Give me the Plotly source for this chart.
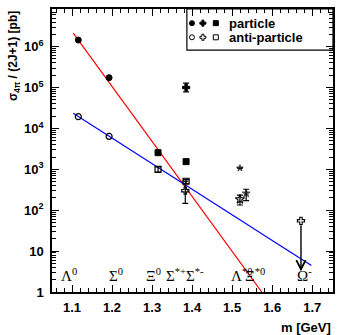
import numpy as np
import plotly.graph_objects as go

# ---------------- data ----------------
# particles (filled markers)
part_circ_m = [1.1157, 1.1926]
part_circ_y = [1.45e6, 1.74e5]
part_sq_m = [1.3149, 1.3850]
part_sq_y = [2.55e3, 1.54e3]
part_cross_m = [1.3850]
part_cross_y = [1.0e5]
part_cross_err_p = [0.28e5]
part_cross_err_m = [0.22e5]
part_star_m = [1.5195, 1.5350]
part_star_y = [1.07e3, 2.58e2]
part_star_err_p = [0, 67]
part_star_err_m = [0, 87]

# anti-particles (open markers)
anti_circ_m = [1.1157, 1.1926]
anti_circ_y = [1.94e4, 6.4e3]
anti_sq_m = [1.3149, 1.3850]
anti_sq_y = [1.0e3, 5.1e2]
anti_sq_err = [0.15e3, 0.6e2]
anti_cross_m = [1.3830]
anti_cross_y = [3.0e2]
anti_cross_err_p = [2.15e2]
anti_cross_err_m = [1.53e2]
anti_star_m = [1.5195]
anti_star_y = [1.85e2]
anti_star_err_p = [50]
anti_star_err_m = [51]
omega_m = [1.6720]
omega_y = [55.0]
omega_arrow_tip = [3.2]

# exponential fits
red_fit_m = [1.103, 1.574]
red_fit_y = [2.14e6, 1.0]
blue_fit_m = [1.103, 1.698]
blue_fit_y = [2.34e4, 4.47]

# particle name labels
label_text = ["Λ<sup>0</sup>", "Σ<sup>0</sup>", "Ξ<sup>0</sup>",
              "Σ<sup>*+</sup>Σ<sup>*-</sup>", "Λ<sup>*0</sup>", "Ξ<sup>*0</sup>", "Ω<sup>-</sup>"]
label_m = [1.093, 1.209, 1.304, 1.383, 1.523, 1.557, 1.682]
label_y = 2.6

# axis ticks
y_tickvals = [1, 10, 100, 1e3, 1e4, 1e5, 1e6]
y_ticktext = ["1", "10", "10<sup>2</sup>", "10<sup>3</sup>", "10<sup>4</sup>",
              "10<sup>5</sup>", "10<sup>6</sup>"]
x_tickvals = [1.1, 1.2, 1.3, 1.4, 1.5, 1.6, 1.7]

BOLD = dict(family="Liberation Sans, Arial, sans-serif", size=13, color="black", weight="bold")
SERIF = dict(family="Liberation Serif, Times New Roman, serif", size=15, color="black")

fig = go.Figure()

# fit lines
fig.add_trace(go.Scatter(x=red_fit_m, y=red_fit_y, mode="lines",
                         line=dict(color="red", width=1.2), showlegend=False))
fig.add_trace(go.Scatter(x=blue_fit_m, y=blue_fit_y, mode="lines",
                         line=dict(color="blue", width=1.2), showlegend=False))

def errs(p, m):
    return dict(type="data", symmetric=False, array=p, arrayminus=m,
                color="black", thickness=1.2, width=3)

mk = dict(color="black", line=dict(color="black", width=1))

# particles
fig.add_trace(go.Scatter(x=part_circ_m, y=part_circ_y, mode="markers",
                         marker=dict(symbol="circle", size=6, **mk), showlegend=False))
fig.add_trace(go.Scatter(x=part_sq_m, y=part_sq_y, mode="markers",
                         marker=dict(symbol="square", size=6, **mk), showlegend=False))
fig.add_trace(go.Scatter(x=part_cross_m, y=part_cross_y, mode="markers",
                         error_y=errs(part_cross_err_p, part_cross_err_m),
                         marker=dict(symbol="cross", size=6, **mk), showlegend=False))
fig.add_trace(go.Scatter(x=part_star_m, y=part_star_y, mode="markers",
                         error_y=errs(part_star_err_p, part_star_err_m),
                         marker=dict(symbol="star", size=[5, 6], **mk), showlegend=False))

# anti-particles
fig.add_trace(go.Scatter(x=anti_sq_m, y=anti_sq_y, mode="markers",
                         error_y=dict(type="data", array=anti_sq_err, color="black", thickness=1.2, width=3),
                         marker=dict(symbol="square-open", size=6, color="black", line=dict(width=1.2)),
                         showlegend=False))
fig.add_trace(go.Scatter(x=anti_circ_m, y=anti_circ_y, mode="markers",
                         marker=dict(symbol="circle-open", size=6, color="black", line=dict(width=1.2)),
                         showlegend=False))
fig.add_trace(go.Scatter(x=anti_cross_m, y=anti_cross_y, mode="markers",
                         error_y=errs(anti_cross_err_p, anti_cross_err_m),
                         marker=dict(symbol="cross-open", size=6, color="black", line=dict(width=1.1)),
                         showlegend=False))
fig.add_trace(go.Scatter(x=anti_star_m, y=anti_star_y, mode="markers",
                         error_y=errs(anti_star_err_p, anti_star_err_m),
                         marker=dict(symbol="star-open", size=7, color="black", line=dict(width=1.1)),
                         showlegend=False))
fig.add_trace(go.Scatter(x=omega_m, y=omega_y, mode="markers",
                         marker=dict(symbol="cross-open", size=6, color="black", line=dict(width=1.1)),
                         showlegend=False))

# upper-limit arrow
fig.add_annotation(x=omega_m[0], y=np.log10(omega_arrow_tip[0]),
                   ax=omega_m[0], ay=np.log10(omega_y[0]) - 0.07,
                   xref="x", yref="y", axref="x", ayref="y",
                   showarrow=True, arrowhead=5, arrowsize=1.3, arrowwidth=1.4,
                   arrowcolor="black", text="")

# particle name labels
for t, m in zip(label_text, label_m):
    fig.add_annotation(x=m, y=np.log10(label_y), xref="x", yref="y", text=t,
                       showarrow=False, font=SERIF, xanchor="center", yanchor="middle")

# legend (drawn on a helper axis overlaying the plot area)
leg_rows = [0.95, 0.90]
leg_x = [0.498, 0.537, 0.583]
leg_syms = [["circle", "cross", "square"], ["circle-open", "cross-open", "square-open"]]
for row_y, syms in zip(leg_rows, leg_syms):
    fig.add_trace(go.Scatter(x=leg_x, y=[row_y] * 3, mode="markers", xaxis="x2", yaxis="y2",
                             marker=dict(symbol=syms, size=5, color="black", line=dict(color="black", width=1)),
                             cliponaxis=False, showlegend=False, hoverinfo="skip"))
fig.add_shape(type="rect", xref="paper", yref="paper", x0=0.48, x1=1.0, y0=0.855, y1=1.0,
              line=dict(color="black", width=1.2), fillcolor="white", layer="below")
fig.add_annotation(x=0.622, y=leg_rows[0], xref="paper", yref="paper", text="particle",
                   showarrow=False, xanchor="left", yanchor="middle", font=BOLD)
fig.add_annotation(x=0.622, y=leg_rows[1], xref="paper", yref="paper", text="anti-particle",
                   showarrow=False, xanchor="left", yanchor="middle", font=BOLD)

# axis titles
fig.add_annotation(x=-0.135, y=1.0, xref="paper", yref="paper",
                   text="σ<sub>4π</sub> / (2J+1) [pb]", textangle=-90,
                   showarrow=False, xanchor="center", yanchor="top",
                   font=dict(family="Liberation Sans, Arial, sans-serif", size=12, color="black", weight="bold"))
fig.add_annotation(x=1.0, y=-0.127, xref="paper", yref="paper", text="m [GeV]",
                   showarrow=False, xanchor="right", yanchor="middle", font=BOLD)

fig.update_layout(
    width=337, height=335,
    margin=dict(l=52, r=2, t=9, b=43),
    paper_bgcolor="white", plot_bgcolor="white",
    showlegend=False,
    xaxis=dict(range=[1.05, 1.752], tickvals=x_tickvals, tickformat=".1f",
               ticks="inside", ticklen=7, tickwidth=1, tickcolor="black",
               minor=dict(ticks="inside", ticklen=4, dtick=0.02, tickcolor="black"),
               showline=True, linecolor="black", linewidth=1.5, mirror="allticks",
               showgrid=False, zeroline=False, tickfont=BOLD, ticklabelstandoff=3),
    yaxis=dict(type="log", range=[0, 6.92], tickvals=y_tickvals, ticktext=y_ticktext,
               ticks="inside", ticklen=7, tickwidth=1, tickcolor="black",
               minor=dict(ticks="inside", ticklen=4, dtick="D1", tickcolor="black"),
               showline=True, linecolor="black", linewidth=1.5, mirror="allticks",
               showgrid=False, zeroline=False, tickfont=BOLD, ticklabelstandoff=4),
    xaxis2=dict(overlaying="x", range=[0, 1], anchor="y2", visible=False, fixedrange=True),
    yaxis2=dict(overlaying="y", range=[0, 1], anchor="x2", visible=False, fixedrange=True),
)

fig.write_html("out.html")
